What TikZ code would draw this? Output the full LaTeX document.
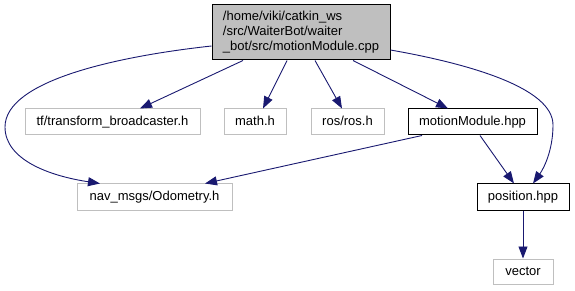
\documentclass[tikz,border=0pt]{standalone}
\usepackage{fontspec}
\setmainfont{Liberation Sans}
\usetikzlibrary{arrows.meta}
\definecolor{edgeblue}{RGB}{25,25,112}
\definecolor{boxgrey}{RGB}{191,191,191}
\begin{document}
\begin{tikzpicture}[x=1pt,y=-1pt,
  font=\fontsize{13}{15}\selectfont,
  filebox/.style={draw=boxgrey, line width=1pt, inner sep=0pt, minimum height=26pt, text height=9.5pt, text depth=2.5pt},
  docbox/.style={draw=black, line width=1pt, inner sep=0pt, minimum height=26pt, text height=9.5pt, text depth=2.5pt},
  incl/.style={draw=edgeblue, line width=0.9pt, -{Triangle[length=12pt,width=9pt]}, fill=none, arrows={-{Triangle[length=12pt,width=9pt,fill=edgeblue]}}}
]
\useasboundingbox (0,0) rectangle (575,291);

% source file and its includes
\node[draw=black, fill=boxgrey, line width=1pt, inner sep=0pt, minimum width=178pt, minimum height=55pt, align=left]
  (root) at (301,32.5) {/home/viki/catkin\_ws\\/src/WaiterBot/waiter\\\_bot/src/motionModule.cpp};
\node[filebox, minimum width=175pt] (tf) at (112.5,122) {tf/transform\_broadcaster.h};
\node[filebox, minimum width=62pt] (math) at (255,122) {math.h};
\node[filebox, minimum width=73pt] (ros) at (347.5,122) {ros/ros.h};
\node[docbox, minimum width=129pt] (motion) at (472.5,122) {motionModule.hpp};
\node[filebox, minimum width=155pt] (nav) at (154.5,197) {nav\_msgs/Odometry.h};
\node[docbox, minimum width=92pt] (pos) at (523,197) {position.hpp};
\node[filebox, minimum width=60pt, minimum height=25pt] (vec) at (523,271.5) {vector};

% include edges
\draw[incl] ([xshift=-58pt]root.south) -- ([xshift=27.5pt]tf.north);
\draw[incl] ([xshift=-14pt]root.south) -- ([xshift=8pt]math.north);
\draw[incl] ([xshift=14pt]root.south) -- ([xshift=-5.5pt]ros.north);
\draw[incl] ([xshift=52pt]root.south) -- ([xshift=-24.5pt]motion.north);
\draw[incl] ([yshift=-13.5pt]root.west) .. controls (120,56) and (5,80) .. (5,127)
  .. controls (5,160) and (50,176) .. ([xshift=-54.5pt]nav.north);
\draw[incl] ([yshift=-17.5pt]root.east) .. controls (470,64) and (553,88) .. (553,125)
  .. controls (553,150) and (544,168) .. ([xshift=10pt]pos.north);
\draw[incl] ([xshift=-50.5pt]motion.south) -- ([xshift=50.5pt]nav.north);
\draw[incl] ([xshift=7.5pt]motion.south) -- ([xshift=-9pt]pos.north);
\draw[incl] (pos.south) -- (vec.north);
\end{tikzpicture}
\end{document}
